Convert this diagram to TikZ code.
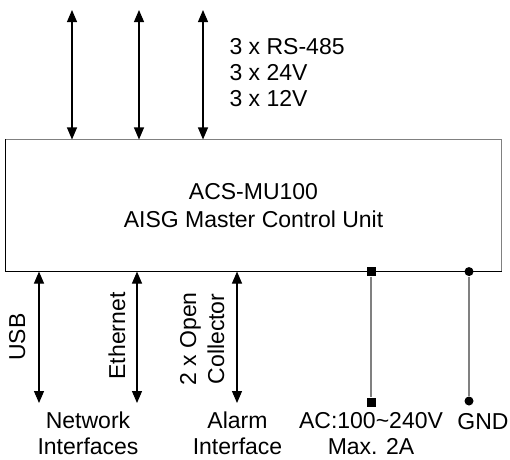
\documentclass[tikz,border=0pt]{standalone}
\usepackage{fontspec}
\setmainfont{Liberation Sans}
\usetikzlibrary{arrows.meta}

\begin{document}
\begin{tikzpicture}
      [x = 1pt, y = -1pt, line width = 1.1pt,
       lbl/.style = {inner sep = 0pt, font = \fontsize{23}{26}\selectfont, align = center},
       io/.style = {{Triangle[length = 12pt, width = 10pt]}-{Triangle[length = 12pt, width = 10pt]}},
       pwr/.style = {fill = black, inner sep = 0pt, minimum size = 9pt},
       wire/.style = {draw = gray, line width = 1.5pt}]
      \useasboundingbox (0,0) rectangle (510,459);
      \node[lbl, minimum width = 495pt, minimum height = 131pt, font = \fontsize{23}{28}\selectfont]
        (mcu) at (253.5,205.5) {ACS-MU100\\AISG Master Control Unit};
      \draw[gray, line width = 1.5pt] (mcu.south east) -- (mcu.north east) -- (mcu.north west);
      \draw[line width = 1.5pt] (mcu.north west) -- (mcu.south west) -- (mcu.south east);
      \foreach \name/\x in {bus1/72, bus2/139, bus3/203}
        {
        \coordinate (\name) at (\x,10);
        \draw[io] (\name) -- (mcu.north -| \name);
        }
      \node[lbl, align = left, anchor = north west] (buslbl) at (229,37.5) {3 x RS-485\\3 x 24V\\3 x 12V};
      \foreach \name/\x in {usb/39, eth/137, alarm/237}
        {
        \coordinate (\name) at (\x,403);
        \draw[io] (mcu.south -| \name) -- (\name);
        }
      \node[lbl, rotate = 90, anchor = base] (usblbl) at (25,337) {USB};
      \node[lbl, rotate = 90, anchor = base] (ethlbl) at (125,336) {Ethernet};
      \node[lbl, rotate = 90, anchor = south, font = \fontsize{23}{28}\selectfont]
        (oclbl) at (225,339) {2 x Open\\Collector};
      \node[pwr] (acin) at (371,402) {};
      \node[pwr] (actop) at (mcu.south -| acin) {};
      \draw[wire] (actop) -- (acin);
      \node[pwr, circle] (gnd) at (469,401) {};
      \node[pwr, circle] (gndtop) at (mcu.south -| gnd) {};
      \draw[wire] (gndtop) -- (gnd);
      \node[lbl, anchor = north] (netlbl) at (88,411.5) {Network\\Interfaces};
      \node[lbl, anchor = north] (alarmlbl) at (237.5,411.5) {Alarm\\Interface};
      \node[lbl, anchor = north] (aclbl) at (371,411.5) {AC:100\textasciitilde240V\\Max. 2A};
      \node[lbl, anchor = north] (gndlbl) at (483,413) {GND};
      \end{tikzpicture}
\end{document}
